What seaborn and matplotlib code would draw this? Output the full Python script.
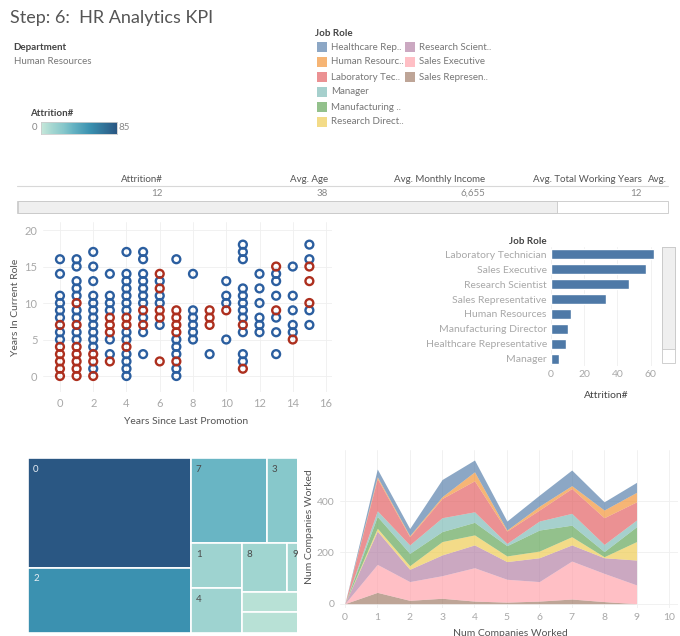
import numpy as np
import pandas as pd
import seaborn as sns
import matplotlib.pyplot as plt
from matplotlib.colors import LinearSegmentedColormap, Normalize
from matplotlib.patches import Rectangle
from matplotlib.lines import Line2D

OUTPUT_PATH = "out.png"
W, H = 680, 636

# ---------------- data ----------------
role_legend_labels = ["Healthcare Rep..", "Human Resourc..", "Laboratory Tec..", "Manager",
                      "Manufacturing ..", "Research Direct..", "Research Scient..",
                      "Sales Executive", "Sales Represen.."]
role_colors = ["#4e79a7", "#f28e2b", "#e15759", "#76b7b2", "#59a14f",
               "#edc948", "#b07aa1", "#ff9da7", "#9c755f"]

kpi_headers = ["Attrition#", "Avg. Age", "Avg. Monthly Income", "Avg. Total Working Years"]
kpi_values = ["12", "38", "6,655", "12"]

# scatter: years since last promotion -> years in current role
stayed_points = {
    0: [16, 14, 11, 10, 9, 8, 6, 5],
    1: [16, 15, 13, 12, 11, 9, 8, 6, 5],
    2: [17, 15, 13, 11, 10, 9, 8, 7, 6, 5, 4, 1],
    3: [14, 11, 10, 9, 5, 3],
    4: [17, 14, 13, 12, 11, 10, 9, 6, 5, 3, 2, 1, 0],
    5: [17, 16, 14, 13, 12, 11, 10, 8, 6, 3],
    6: [13, 11, 10, 7],
    7: [16, 5, 4, 3, 1, 0],
    8: [14, 9, 8, 7, 6, 5],
    9: [3],
    10: [13, 11, 10, 5],
    11: [18, 17, 16, 12, 11, 10, 9, 8, 6, 3, 2],
    12: [14, 12, 10, 8, 7, 6],
    13: [14, 13, 11, 8, 6, 3],
    14: [15, 11, 9, 7, 6],
    15: [18, 16, 9, 7],
}
left_points = {
    0: [7, 4, 3, 2, 1, 0],
    1: [10, 7, 4, 3, 2, 1, 0],
    2: [3, 2, 0],
    3: [8, 7, 6, 2],
    4: [8, 7, 4],
    5: [9, 7],
    6: [14, 12, 9, 8, 2],
    7: [9, 8, 7, 6, 2],
    9: [9, 8, 7],
    10: [9],
    11: [7, 1],
    13: [15, 9],
    14: [5],
    15: [15, 13, 10],
}

bar_roles = ["Laboratory Technician", "Sales Executive", "Research Scientist",
             "Sales Representative", "Human Resources", "Manufacturing Director",
             "Healthcare Representative", "Manager"]
bar_attrition = [62, 57, 47, 33, 12, 10, 9, 5]

tree_labels = ["0", "2", "7", "3", "1", "4", "8", "9", "5", "6"]
tree_sizes = [179, 106, 65, 37, 23, 23, 22, 11, 14, 14]
tree_attrition = [85, 55, 35, 25, 15, 15, 14, 12, 5, 5]

companies = [0, 1, 2, 3, 4, 5, 6, 7, 8, 9]
healthcare = [0, 30, 28, 67, 46, 35, 43, 61, 32, 39]
human_res = [0, 7, 4, 7, 35, 4, 15, 11, 30, 37]
lab_tech = [0, 126, 32, 75, 121, 48, 43, 97, 104, 71]
manager = [0, 22, 33, 54, 41, 9, 35, 46, 28, 26]
manuf_dir = [0, 46, 48, 39, 49, 40, 82, 45, 20, 58]
research_dir = [0, 11, 14, 52, 39, 22, 26, 32, 4, 72]
research_sci = [0, 130, 48, 81, 89, 69, 93, 63, 61, 97]
sales_exec = [0, 109, 73, 88, 130, 89, 76, 148, 110, 73]
sales_rep = [0, 44, 13, 21, 10, 6, 10, 18, 8, 0]

# ---------------- helpers ----------------
sns.set_theme(style="white")
plt.rcParams['font.family'] = ['Lato', 'DejaVu Sans']

fig = plt.figure(figsize=(W / 100, H / 100), dpi=100)
fig.patch.set_facecolor("white")


def px_axes(x0, y0, x1, y1):
    return fig.add_axes([x0 / W, 1 - y1 / H, (x1 - x0) / W, (y1 - y0) / H])


def ftext(x, y, s, **kw):
    kw.setdefault("va", "center")
    fig.text(x / W, 1 - y / H, s, **kw)


def frect(x0, y0, x1, y1, **kw):
    fig.add_artist(Rectangle((x0 / W, 1 - y1 / H), (x1 - x0) / W, (y1 - y0) / H,
                             transform=fig.transFigure, **kw))


def clean(ax):
    for s in ax.spines.values():
        s.set_visible(False)
    ax.tick_params(length=0, labelsize=7.5, labelcolor="#a8a8a8")
    ax.set_xlabel("")
    ax.set_ylabel("")


blue_teal = LinearSegmentedColormap.from_list(
    "blue_teal", [(0, "#c6e8da"), (0.15, "#a3d6d1"), (0.3, "#86c7cb"),
                  (0.42, "#67b4c3"), (0.65, "#3a91b0"), (1.0, "#2a5783")])

# ---------------- header / legends ----------------
ftext(10, 18, "Step: 6:  HR Analytics KPI", fontsize=13, color="#555555")
ftext(13, 47, "Department", fontsize=7, color="#444444", fontweight="bold")
ftext(14, 61, "Human Resources", fontsize=7, color="#777777")

ftext(30, 113, "Attrition#", fontsize=7, color="#444444", fontweight="bold")
cax = px_axes(41, 122, 117, 134)
cax.imshow(np.linspace(0, 85, 200)[None, :], aspect="auto", cmap=blue_teal,
           extent=(0, 85, 0, 1))
cax.set_xticks([])
cax.set_yticks([])
for s in cax.spines.values():
    s.set_color("#cccccc")
    s.set_linewidth(0.6)
ftext(37, 128, "0", fontsize=7, color="#888888", ha="right")
ftext(119, 128, "85", fontsize=7, color="#888888")

ftext(315, 34, "Job Role", fontsize=7, color="#444444", fontweight="bold")
for i, (lab, col) in enumerate(zip(role_legend_labels, role_colors)):
    column, row = divmod(i, 6)
    sx = 317 + column * 88
    sy = 47 + row * 15
    frect(sx, sy - 5, sx + 10, sy + 5, facecolor=col, alpha=0.65, edgecolor="none")
    ftext(sx + 14, sy, lab, fontsize=7, color="#777777")

# ---------------- KPI table ----------------
header_right = [163, 328, 485, 642]
for xr, head, val in zip(header_right, kpi_headers, kpi_values):
    ftext(xr, 179, head, fontsize=7, color="#555555", ha="right")
    ftext(xr, 193, val, fontsize=7, color="#888888", ha="right")
ftext(667, 179, "Avg.", fontsize=7, color="#555555", ha="right")
fig.add_artist(Line2D([17 / W, 668 / W], [1 - 186 / H, 1 - 186 / H],
                      transform=fig.transFigure, color="#d8d8d8", lw=0.8))
frect(17, 201, 668, 213, facecolor="white", edgecolor="#c8c8c8", lw=0.6)
frect(17.5, 201.5, 557, 212.5, facecolor="#efefef", edgecolor="#c8c8c8", lw=0.6)

# ---------------- scatter ----------------
rows = []
for yrs, vals in stayed_points.items():
    rows += [(yrs, v, "No") for v in vals]
for yrs, vals in left_points.items():
    rows += [(yrs, v, "Yes") for v in vals]
df_sc = pd.DataFrame(rows, columns=["promo", "role", "attrition"])

ax1 = px_axes(43, 222, 332, 392)
sns.scatterplot(data=df_sc, x="promo", y="role", hue="attrition",
                palette={"No": "#2b5e9f", "Yes": "#ad2f1e"}, s=32, linewidth=1.7,
                legend=False, ax=ax1)
for coll in ax1.collections:
    coll.set_edgecolors(coll.get_facecolors())
    coll.set_facecolors("none")
ax1.set_xlim(-1.02, 16.36)
ax1.set_ylim(-2.19, 21.1)
ax1.set_xticks(range(0, 17, 2))
ax1.set_yticks(range(0, 21, 5))
clean(ax1)
ax1.tick_params(labelsize=8, pad=4)
ax1.grid(True, color="#efefef", lw=0.6)
ax1.set_axisbelow(True)
ftext(16, 307, "Years In Current Role", fontsize=7.5, color="#555555",
      rotation=90, ha="center")
ftext(186, 421, "Years Since Last Promotion", fontsize=7.5, color="#555555", ha="center")

# ---------------- bar chart ----------------
ax2 = px_axes(551, 247, 660, 366)
sns.barplot(x=bar_attrition, y=bar_roles, color="#4e79a7", saturation=1,
            width=0.68, ax=ax2)
ax2.set_xlim(0, 65.7)
ax2.set_ylim(7.5, -0.5)
ax2.set_xticks([0, 20, 40, 60])
clean(ax2)
ax2.tick_params(labelsize=7.5, pad=3)
ax2.grid(True, axis="x", color="#efefef", lw=0.6)
ax2.set_axisbelow(True)
ftext(547, 241, "Job Role", fontsize=7, color="#444444", fontweight="bold", ha="right")
ftext(606, 395, "Attrition#", fontsize=7.5, color="#444444", ha="center")
frect(662, 247, 675, 363, facecolor="white", edgecolor="#c8c8c8", lw=0.6)
frect(662, 247, 675, 349, facecolor="#efefef", edgecolor="#c8c8c8", lw=0.6)

# ---------------- treemap ----------------
def strip_layout(sizes, x, y, w, h):
    # lays items out two at a time along the shorter side
    scale = w * h / sum(sizes)
    rects = []
    for i in range(0, len(sizes), 2):
        group = sizes[i:i + 2]
        area = sum(group) * scale
        if w >= h:
            cw = area / h
            yy = y
            for s in group:
                hh = s * scale / cw
                rects.append((x, yy, cw, hh))
                yy += hh
            x += cw
            w -= cw
        else:
            rh = area / w
            xx = x
            for s in group:
                ww = s * scale / rh
                rects.append((xx, y, ww, rh))
                xx += ww
            y += rh
            h -= rh
    return rects


ax3 = px_axes(28, 458, 297, 633)
tnorm = Normalize(0, 85)
for (rx, ry, rw, rh), lab, att in zip(strip_layout(tree_sizes, 0, 0, 282, 175),
                                      tree_labels, tree_attrition):
    ax3.add_patch(Rectangle((rx, ry), rw, rh, facecolor=blue_teal(tnorm(att)),
                            edgecolor="white", lw=1.2))
    if rw > 20 and rh > 25:
        ax3.text(rx + 5, ry + 11, lab, fontsize=7,
                 color="#e8eef4" if att > 45 else "#4a4a4a", va="center")
ax3.set_xlim(0, 269)
ax3.set_ylim(175, 0)
ax3.set_xticks([])
ax3.set_yticks([])
for s in ax3.spines.values():
    s.set_visible(False)

# ---------------- stacked area ----------------
ax4 = px_axes(340, 450, 678, 607.5)
layers = [sales_rep, sales_exec, research_sci, research_dir, manuf_dir,
          manager, lab_tech, human_res, healthcare]
ax4.stackplot(companies, *layers, colors=role_colors[::-1], alpha=0.65, lw=0)
ax4.set_xlim(-0.15, 10.28)
ax4.set_ylim(-15, 599)
ax4.set_xticks(range(0, 11))
ax4.set_yticks([0, 200, 400])
clean(ax4)
ax4.tick_params(labelsize=7.5, pad=4)
ax4.grid(True, color="#efefef", lw=0.6)
ax4.set_axisbelow(True)
ftext(310, 527, "Num Companies Worked", fontsize=7.5, color="#555555",
      rotation=90, ha="center")
ftext(510, 633, "Num Companies Worked", fontsize=7.5, color="#555555", ha="center")

fig.savefig(OUTPUT_PATH, dpi=100)
print(f"Saved: {OUTPUT_PATH}")
